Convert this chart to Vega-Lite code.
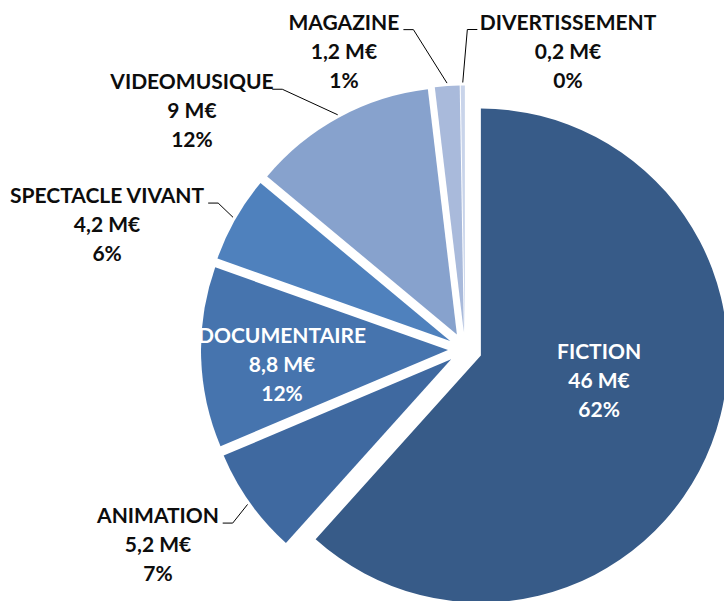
{
  "$schema": "https://vega.github.io/schema/vega-lite/v6.json",
  "width": 518,
  "height": 503,
  "autosize": {"type": "none"},
  "padding": {"left": 206, "top": 98, "right": 0, "bottom": 0},
  "background": "white",
  "view": {"stroke": null},
  "config": {"text": {"font": "Lato", "fontWeight": "bold", "fontSize": 21, "lineHeight": 29}},
  "data": {"values": [
    {"cat": "FICTION", "value": 46, "pct": 62},
    {"cat": "ANIMATION", "value": 5.2, "pct": 7},
    {"cat": "DOCUMENTAIRE", "value": 8.8, "pct": 12},
    {"cat": "SPECTACLE VIVANT", "value": 4.2, "pct": 6},
    {"cat": "VIDEOMUSIQUE", "value": 9, "pct": 12},
    {"cat": "MAGAZINE", "value": 1.2, "pct": 1},
    {"cat": "DIVERTISSEMENT", "value": 0.2, "pct": 0}
  ]},
  "transform": [
    {"joinaggregate": [{"op": "sum", "field": "value", "as": "total"}]},
    {"window": [{"op": "sum", "field": "value", "as": "cum"}], "frame": [null, 0]},
    {"calculate": "2*PI*(datum.cum - datum.value)/datum.total", "as": "a0"},
    {"calculate": "2*PI*datum.cum/datum.total", "as": "a1"},
    {"calculate": "(datum.a0 + datum.a1)/2", "as": "am"},
    {"calculate": "17*sin(datum.am)", "as": "ex"},
    {"calculate": "17*cos(datum.am)", "as": "ey"},
    {"calculate": "datum.ex + 250*sin(datum.am)", "as": "px"},
    {"calculate": "datum.ey + 250*cos(datum.am)", "as": "py"},
    {"calculate": "datum.cat === 'FICTION' || datum.cat === 'DOCUMENTAIRE'", "as": "inside"},
    {"calculate": "datum.cat === 'FICTION' ? -19.7 : datum.cat === 'DOCUMENTAIRE' ? 5.6 : datum.cat === 'MAGAZINE' ? -5.3 : datum.cat === 'DIVERTISSEMENT' ? 0.9 : datum.cat === 'VIDEOMUSIQUE' ? -6.6 : datum.cat === 'SPECTACLE VIVANT' ? 1 : -1.3", "as": "ln"},
    {"calculate": "datum.cat === 'FICTION' ? 134.1 : datum.cat === 'DOCUMENTAIRE' ? 183.4 : datum.cat === 'MAGAZINE' ? 324 : datum.cat === 'DIVERTISSEMENT' ? 320 : datum.cat === 'VIDEOMUSIQUE' ? 318 : datum.cat === 'SPECTACLE VIVANT' ? 287 : 290", "as": "lr"},
    {"calculate": "datum.lr*sin(datum.am + datum.ln*PI/180)", "as": "lx"},
    {"calculate": "datum.lr*cos(datum.am + datum.ln*PI/180)", "as": "ly"},
    {"calculate": "datum.lx < 0 ? -1 : 1", "as": "side"},
    {"calculate": "datum.lx + datum.side*10", "as": "hx"},
    {"calculate": "datum.hx + datum.side*(length(datum.cat)*5.2 + 17.9)", "as": "tx"},
    {"calculate": "[datum.cat, replace(toString(datum.value), '.', ',') + ' M€', datum.pct + '%']", "as": "lines"}
  ],
  "layer": [
    {
      "mark": {"type": "arc", "radius": 247},
      "encoding": {
        "x": {"field": "ex", "type": "quantitative", "scale": {"domain": [-259, 259], "nice": false, "zero": false}, "axis": null},
        "y": {"field": "ey", "type": "quantitative", "scale": {"domain": [-251.5, 251.5], "nice": false, "zero": false}, "axis": null},
        "theta": {"field": "a0", "type": "quantitative", "scale": null, "stack": null},
        "theta2": {"field": "a1"},
        "color": {"field": "cat", "type": "nominal", "legend": null,
          "scale": {"domain": ["FICTION", "ANIMATION", "DOCUMENTAIRE", "SPECTACLE VIVANT", "VIDEOMUSIQUE", "MAGAZINE", "DIVERTISSEMENT"],
                    "range": ["#375B88", "#3F69A0", "#4674AE", "#4F81BD", "#87A2CD", "#A9BADB", "#C9D4EA"]}}
      }
    },
    {
      "transform": [{"filter": "!datum.inside"}],
      "mark": {"type": "rule", "color": "#000000", "strokeWidth": 1},
      "encoding": {
        "x": {"field": "px", "type": "quantitative", "scale": {"domain": [-259, 259], "nice": false, "zero": false}, "axis": null},
        "y": {"field": "py", "type": "quantitative", "scale": {"domain": [-251.5, 251.5], "nice": false, "zero": false}, "axis": null},
        "x2": {"field": "lx"},
        "y2": {"field": "ly"}
      }
    },
    {
      "transform": [{"filter": "!datum.inside"}],
      "mark": {"type": "rule", "color": "#000000", "strokeWidth": 1},
      "encoding": {
        "x": {"field": "lx", "type": "quantitative", "scale": {"domain": [-259, 259], "nice": false, "zero": false}, "axis": null},
        "y": {"field": "ly", "type": "quantitative", "scale": {"domain": [-251.5, 251.5], "nice": false, "zero": false}, "axis": null},
        "x2": {"field": "hx"}
      }
    },
    {
      "transform": [{"filter": "!datum.inside"}],
      "mark": {"type": "text", "align": "center", "baseline": "alphabetic", "color": "#0d0d0d"},
      "encoding": {
        "x": {"field": "tx", "type": "quantitative", "scale": {"domain": [-259, 259], "nice": false, "zero": false}, "axis": null},
        "y": {"field": "ly", "type": "quantitative", "scale": {"domain": [-251.5, 251.5], "nice": false, "zero": false}, "axis": null},
        "text": {"field": "lines", "type": "nominal"}
      }
    },
    {
      "transform": [{"filter": "datum.inside"}],
      "mark": {"type": "text", "align": "center", "baseline": "middle", "color": "#FFFFFF"},
      "encoding": {
        "x": {"field": "lx", "type": "quantitative", "scale": {"domain": [-259, 259], "nice": false, "zero": false}, "axis": null},
        "y": {"field": "ly", "type": "quantitative", "scale": {"domain": [-251.5, 251.5], "nice": false, "zero": false}, "axis": null},
        "text": {"field": "lines", "type": "nominal"}
      }
    }
  ]
}
